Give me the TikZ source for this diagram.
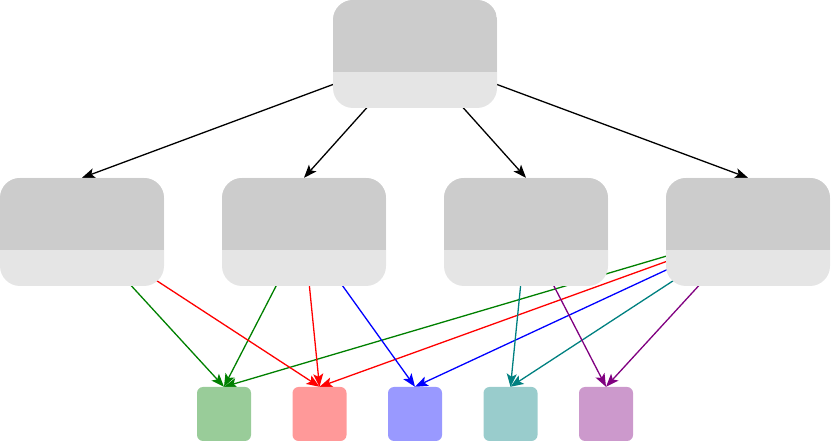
\documentclass[tikz,border=0pt]{standalone}
\usetikzlibrary{arrows.meta,positioning,backgrounds}
\definecolor{dgreen}{RGB}{0,128,0}
\definecolor{dteal}{RGB}{0,128,128}
\definecolor{dpurple}{RGB}{128,0,128}
\tikzset{
    group/.style={
           rectangle,
           rounded corners=20pt,
           fill=gray!20,
           minimum width=164pt,
           minimum height=108pt,
           inner sep=0pt,
           path picture={\fill[gray!40,sharp corners] (path picture bounding box.north west) rectangle ([yshift=-72pt]path picture bounding box.north east);},
           },
    leaf/.style={
           rectangle,
           rounded corners=6pt,
           fill=#1!40,
           minimum size=54pt,
           inner sep=0pt,
           },
    link/.style={
           ->,
           >={Stealth[length=13pt,width=10pt,inset=3pt]},
           line width=1.3pt,
           },
}
\begin{document}
\begin{tikzpicture}[x=1pt,y=1pt]
\useasboundingbox (0,0) rectangle (831,-443);
\node[group](root) at (415,-54){};
\node[group](mida) at (82,-232){};
\node[group,right of=mida,node distance=222pt](midb){};
\node[group,right of=midb,node distance=222pt](midc){};
\node[group,right of=midc,node distance=222pt](midd){};
\node[leaf=dgreen](lgreen) at (224,-414){};
\node[leaf=red,right of=lgreen,node distance=95.5pt](lred){};
\node[leaf=blue,right of=lred,node distance=95.5pt](lblue){};
\node[leaf=dteal,right of=lblue,node distance=95.5pt](lteal){};
\node[leaf=dpurple,right of=lteal,node distance=95.5pt](lpurple){};
% edges start at the centres, the boxes hide the rest
\begin{scope}[on background layer]
\path[link] (root.center) edge (mida.north)
      (root.center) edge (midb.north)
      (root.center) edge (midc.north)
      (root.center) edge (midd.north);
\path[link,dgreen] (mida.center) edge (lgreen.north)
      (midb.center) edge (lgreen.north)
      (midd.center) edge (lgreen.north);
\path[link,red] (mida.center) edge (lred.north)
      (midb.center) edge (lred.north)
      (midd.center) edge (lred.north);
\path[link,blue] (midb.center) edge (lblue.north)
      (midd.center) edge (lblue.north);
\path[link,dteal] (midc.center) edge (lteal.north)
      (midd.center) edge (lteal.north);
\path[link,dpurple] (midc.center) edge (lpurple.north)
      (midd.center) edge (lpurple.north);
\end{scope}
\end{tikzpicture}
\end{document}
